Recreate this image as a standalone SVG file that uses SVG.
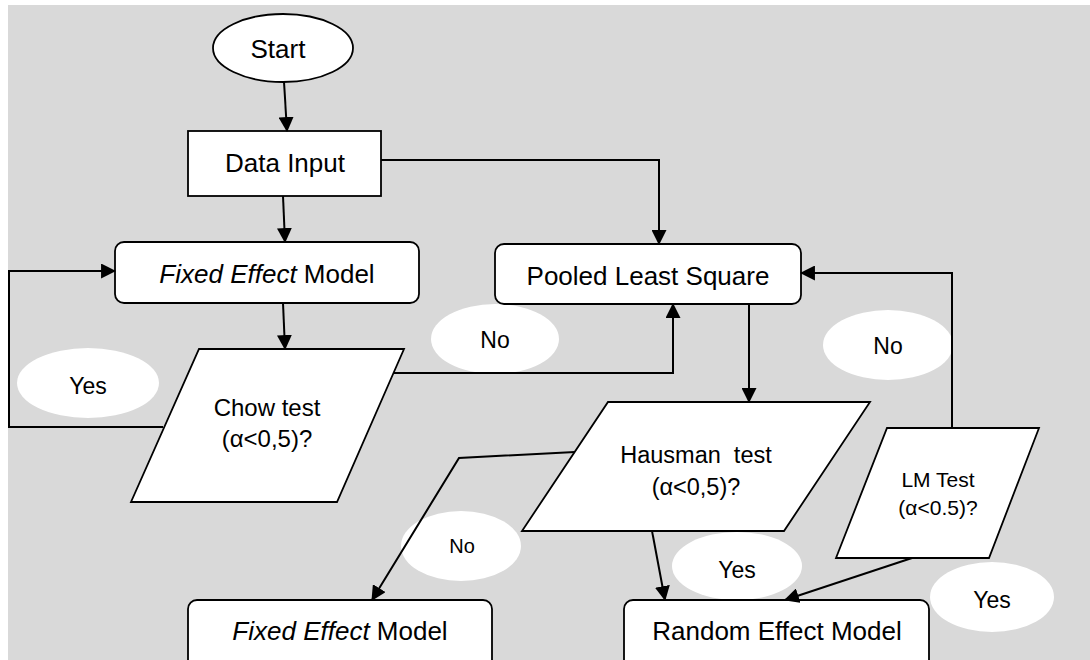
<svg xmlns="http://www.w3.org/2000/svg" width="1090" height="660" viewBox="0 0 1090 660">
<style>
.n{fill:#fff;stroke:#000;stroke-width:1.8}
.lbl{fill:#fff;stroke:none}
.t{font-family:"Liberation Sans",Arial,sans-serif;fill:#000;text-anchor:middle}
.c{fill:none;stroke:#000;stroke-width:2}
.a{marker-end:url(#ah)}
</style>
<defs>
<marker id="ah" markerUnits="userSpaceOnUse" viewBox="0 0 14 14" markerWidth="15" markerHeight="15" refX="13" refY="7" orient="auto">
<path d="M0,0 L14,7 L0,14 z" fill="#000"/>
</marker>
</defs>
<rect x="8" y="5" width="1082" height="655" fill="#d9d9d9"/>

<g id="label-yes-left"><ellipse class="lbl" cx="88" cy="383" rx="71" ry="35"/><text class="t" x="88" y="394" font-size="23">Yes</text></g>
<g id="label-no-chow"><ellipse class="lbl" cx="495" cy="339" rx="64" ry="35"/><text class="t" x="495" y="348" font-size="23">No</text></g>
<g id="label-no-lm"><ellipse class="lbl" cx="888" cy="345" rx="65" ry="35"/><text class="t" x="888" y="354" font-size="23">No</text></g>
<g id="label-no-hausman"><ellipse class="lbl" cx="461" cy="546" rx="60" ry="35"/><text class="t" x="462" y="553" font-size="20">No</text></g>
<g id="label-yes-hausman"><ellipse class="lbl" cx="737" cy="566" rx="65" ry="34"/><text class="t" x="737" y="578" font-size="23">Yes</text></g>
<g id="label-yes-lm"><ellipse class="lbl" cx="992" cy="597" rx="62" ry="35"/><text class="t" x="992" y="608" font-size="23">Yes</text></g>

<g id="start"><ellipse class="n" cx="283" cy="48" rx="70" ry="34"/><text class="t" x="278" y="58" font-size="26">Start</text></g>
<g id="data-input"><rect class="n" x="188" y="131" width="193" height="65"/><text class="t" x="285" y="172" font-size="26">Data Input</text></g>
<g id="fixed-effect-top"><rect class="n" x="115" y="242" width="304" height="61" rx="9"/><text class="t" x="267" y="283" font-size="26"><tspan font-style="italic">Fixed Effect</tspan> Model</text></g>
<g id="pooled"><rect class="n" x="495" y="244" width="306" height="60" rx="9"/><text class="t" x="648" y="285" font-size="26">Pooled Least Square</text></g>
<g id="chow"><polygon class="n" points="199,349 404,349 337,502 131,502"/><text class="t" x="267" y="416" font-size="24">Chow test</text><text class="t" x="267" y="447" font-size="24">(α&lt;0,5)?</text></g>
<g id="hausman"><polygon class="n" points="608,402 870,402 784,531 522,531"/><text class="t" x="696" y="463" font-size="23.5" xml:space="preserve">Hausman  test</text><text class="t" x="696" y="495" font-size="23.5">(α&lt;0,5)?</text></g>
<g id="lm"><polygon class="n" points="887,428 1039,428 989,558 836,558"/><text class="t" x="938" y="487" font-size="21">LM Test</text><text class="t" x="938" y="515" font-size="21">(α&lt;0.5)?</text></g>
<g id="fixed-effect-bottom"><rect class="n" x="188" y="600" width="304" height="90" rx="9"/><text class="t" x="340" y="640" font-size="26"><tspan font-style="italic">Fixed Effect</tspan> Model</text></g>
<g id="random-effect"><rect class="n" x="624" y="600" width="305" height="90" rx="9"/><text class="t" x="777" y="640" font-size="26">Random Effect Model</text></g>

<g id="connectors">
<path class="c a" d="M284,82 L287,131"/>
<path class="c a" d="M283,196 L285,242"/>
<path class="c a" d="M283,303 L285,349"/>
<path class="c a" d="M381,160 L659,160 L659,244"/>
<path class="c a" d="M163,427 L9,427 L9,271 L115,271"/>
<path class="c a" d="M393,373 L673,373 L673,304"/>
<path class="c a" d="M952,428 L952,273 L801,273"/>
<path class="c a" d="M749,304 L749,402"/>
<path class="c a" d="M575,452 L459,458 L372,600"/>
<path class="c a" d="M652,531 L665,600"/>
<path class="c a" d="M912,558 L785,600"/>
</g>
</svg>
